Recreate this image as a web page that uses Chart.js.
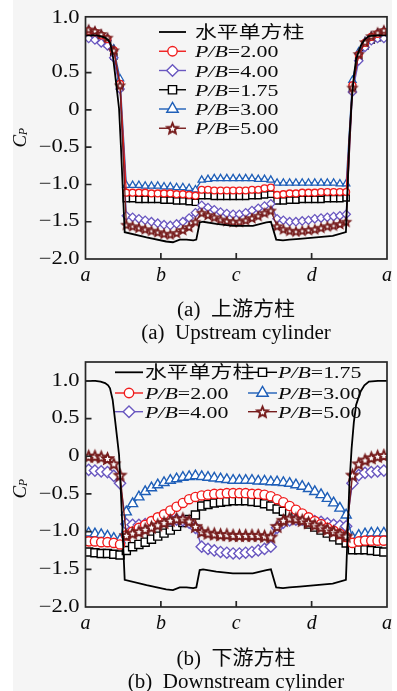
<!DOCTYPE html>
<html><head><meta charset="utf-8">
<script src="https://cdn.jsdelivr.net/npm/chart.js@4.4.1/dist/chart.umd.min.js"></script>
<style>
html,body{margin:0;padding:0;background:#fff;}
#wrap{position:relative;width:397px;height:691px;overflow:hidden;}
#bg{position:absolute;left:13px;top:0;width:379px;height:691px;background:#f5f5f5;}
canvas{position:absolute;left:0;}
#c1{top:0;} #c2{top:345px;}
</style></head><body>
<div id="wrap"><div id="bg"></div>
<canvas id="c1" width="397" height="345"></canvas>
<canvas id="c2" width="397" height="346"></canvas>
</div>
<script>
// ---------- axis ticks ----------
const xTickValues = [0, 1, 2, 3, 4];
const xTickLabels = ['a', 'b', 'c', 'd', 'a'];
const yTickLabels = ['\u22122.0', '\u22121.5', '\u22121.0', '\u22120.5', '0', '0.5', '1.0'];
const upYTickValues = [-2, -1.5, -1, -0.5, 0, 0.5, 1.23];
const downYTickValues = [-2, -1.5, -1, -0.5, 0, 0.5, 1.0];
const seriesLabels = ['水平单方柱', 'P/B=2.00', 'P/B=4.00', 'P/B=1.75', 'P/B=3.00', 'P/B=5.00'];
const captionsUp = ['(a)  上游方柱', '(a)  Upstream cylinder'];
const captionsDown = ['(b)  下游方柱', '(b)  Downstream cylinder'];

// ---------- single (isolated) cylinder ----------
const singleX = [0, 0.13, 0.2, 0.26, 0.3, 0.325, 0.36, 0.39, 0.42, 0.445, 0.47, 0.52,
  0.81, 1.07, 1.16, 1.25, 1.34, 1.43, 1.47, 1.515,
  1.56, 1.735, 1.955, 2.22, 2.4, 2.46, 2.53,
  2.62, 2.705, 2.84, 3.06, 3.28, 3.455,
  3.5, 3.53, 3.56, 3.59, 3.65, 3.7, 3.76, 3.88, 4.0];
const singleY = [1.0, 1.0, 0.99, 0.97, 0.94, 0.9, 0.75, 0.5, 0.24, 0.02, -0.49, -1.64,
  -1.71, -1.765, -1.775, -1.74, -1.74, -1.75, -1.74, -1.51,
  -1.5, -1.53, -1.555, -1.555, -1.51, -1.5, -1.74,
  -1.75, -1.74, -1.73, -1.71, -1.69, -1.64,
  -0.4, 0.1, 0.45, 0.68, 0.86, 0.94, 0.99, 1.0, 1.0];

// ---------- pressure taps: 12 per face (half windward face at each end) ----------
const tapX = Array.from({length: 48}, (_, i) => (i + 0.5) / 12);

// ---------- upstream cylinder ----------
const upP200 = [1.06, 1.04, 1.0, 0.95, 0.8, 0.35,
  -1.11, -1.11, -1.11, -1.11, -1.12, -1.12, -1.12, -1.12, -1.13, -1.13, -1.14, -1.15,
  -1.07, -1.07, -1.08, -1.08, -1.08, -1.08, -1.08, -1.08, -1.07, -1.07, -1.05, -1.04,
  -1.14, -1.13, -1.12, -1.12, -1.11, -1.11, -1.11, -1.1, -1.1, -1.1, -1.1, -1.1,
  0.33, 0.74, 0.9, 0.98, 1.02, 1.05];
const upP400 = [0.96, 0.94, 0.9, 0.86, 0.7, 0.28,
  -1.42, -1.44, -1.46, -1.48, -1.5, -1.52, -1.54, -1.55, -1.53, -1.5, -1.45, -1.38,
  -1.28, -1.31, -1.34, -1.37, -1.39, -1.4, -1.4, -1.38, -1.35, -1.32, -1.29, -1.26,
  -1.46, -1.48, -1.5, -1.5, -1.49, -1.48, -1.46, -1.45, -1.44, -1.43, -1.42, -1.4,
  0.24, 0.66, 0.84, 0.93, 0.96, 0.96];
const upP175 = [1.0, 0.98, 0.94, 0.89, 0.72, 0.32,
  -1.19, -1.19, -1.2, -1.2, -1.2, -1.2, -1.21, -1.21, -1.22, -1.22, -1.23, -1.24,
  -1.15, -1.15, -1.16, -1.16, -1.16, -1.16, -1.16, -1.16, -1.15, -1.15, -1.14, -1.13,
  -1.22, -1.22, -1.21, -1.21, -1.2, -1.2, -1.2, -1.2, -1.19, -1.19, -1.19, -1.18,
  0.3, 0.72, 0.86, 0.94, 0.97, 0.98];
const upP300 = [1.07, 1.05, 1.01, 0.96, 0.82, 0.42,
  -1.01, -1.01, -1.01, -1.02, -1.02, -1.02, -1.03, -1.03, -1.04, -1.04, -1.05, -1.07,
  -0.94, -0.93, -0.92, -0.92, -0.92, -0.92, -0.92, -0.92, -0.92, -0.93, -0.93, -0.94,
  -0.98, -0.98, -0.98, -0.98, -0.98, -0.98, -0.98, -0.98, -0.98, -0.98, -0.99, -0.99,
  0.4, 0.78, 0.92, 0.99, 1.03, 1.06];
const upP500 = [1.08, 1.06, 1.02, 0.97, 0.8, 0.33,
  -1.54, -1.56, -1.58, -1.6, -1.62, -1.64, -1.66, -1.67, -1.65, -1.61, -1.57, -1.5,
  -1.38, -1.41, -1.44, -1.47, -1.49, -1.5, -1.5, -1.48, -1.45, -1.42, -1.38, -1.35,
  -1.56, -1.6, -1.62, -1.63, -1.62, -1.61, -1.6, -1.58, -1.56, -1.55, -1.53, -1.5,
  0.3, 0.75, 0.91, 0.99, 1.04, 1.07];

// ---------- downstream cylinder ----------
const downP200 = [-1.13, -1.13, -1.14, -1.14, -1.15, -1.17,
  -1.05, -1.0, -0.95, -0.91, -0.86, -0.81, -0.77, -0.72, -0.67, -0.62, -0.57, -0.54,
  -0.52, -0.51, -0.5, -0.5, -0.49, -0.49, -0.49, -0.49, -0.5, -0.5, -0.51, -0.53,
  -0.57, -0.61, -0.66, -0.71, -0.76, -0.81, -0.86, -0.9, -0.95, -0.99, -1.03, -1.07,
  -1.15, -1.13, -1.12, -1.12, -1.12, -1.12];
const downP400 = [-0.18, -0.19, -0.2, -0.21, -0.26, -0.36,
  -0.9, -0.91, -0.91, -0.9, -0.89, -0.87, -0.85, -0.84, -0.84, -0.85, -0.88, -0.95,
  -1.2, -1.23, -1.25, -1.27, -1.28, -1.29, -1.29, -1.28, -1.27, -1.25, -1.23, -1.2,
  -0.95, -0.88, -0.85, -0.84, -0.84, -0.85, -0.86, -0.87, -0.89, -0.91, -0.92, -0.93,
  -0.36, -0.25, -0.22, -0.21, -0.2, -0.19];
const downP175 = [-1.27, -1.28, -1.29, -1.29, -1.3, -1.31,
  -1.25, -1.2, -1.17, -1.14, -1.1, -1.06, -1.02, -0.98, -0.93, -0.88, -0.84, -0.78,
  -0.66, -0.64, -0.62, -0.61, -0.6, -0.59, -0.59, -0.59, -0.6, -0.61, -0.63, -0.66,
  -0.7, -0.73, -0.76, -0.8, -0.85, -0.9, -0.94, -0.98, -1.02, -1.07, -1.11, -1.15,
  -1.24, -1.24, -1.24, -1.25, -1.26, -1.27];
const downP300 = [-1.02, -1.03, -1.04, -1.06, -1.09, -1.11,
  -0.74, -0.63, -0.54, -0.47, -0.42, -0.38, -0.35, -0.32, -0.3, -0.28, -0.27, -0.26,
  -0.27, -0.28, -0.29, -0.3, -0.31, -0.32, -0.32, -0.32, -0.32, -0.33, -0.33, -0.34,
  -0.34, -0.35, -0.36, -0.38, -0.4, -0.43, -0.47, -0.51, -0.56, -0.62, -0.69, -0.78,
  -1.08, -1.05, -1.03, -1.02, -1.02, -1.02];
const downP500 = [0.0, 0.0, -0.01, -0.03, -0.1, -0.25,
  -1.05, -1.02, -1.0, -0.97, -0.94, -0.91, -0.88, -0.85, -0.83, -0.83, -0.86, -0.93,
  -1.0, -1.02, -1.03, -1.04, -1.04, -1.05, -1.05, -1.05, -1.05, -1.05, -1.06, -1.07,
  -0.93, -0.85, -0.82, -0.83, -0.85, -0.88, -0.91, -0.94, -0.97, -1.0, -1.03, -1.06,
  -0.25, -0.1, -0.05, -0.02, 0.0, 0.01];

// ---------- styles ----------
const COL = {single: '#000', p200: '#f01c1c', p400: '#6a58c0', p175: '#000', p300: '#1f5fb8', p500: '#761c1c'};
const SERIF = '"Liberation Serif"';
const CJK = '"Noto Sans CJK SC"';
const TXT = '#0a0a0a';

function makeStar(R, color, lw) {
  const size = Math.ceil(2 * R + lw + 3);
  const c = document.createElement('canvas'); c.width = size; c.height = size;
  const g = c.getContext('2d');
  const cx = size / 2, cy = size / 2 + R * 0.1;
  g.beginPath();
  for (let k = 0; k < 10; k++) {
    const rr = k % 2 === 0 ? R : R * 0.45;
    const a = -Math.PI / 2 + k * Math.PI / 5;
    g.lineTo(cx + rr * Math.cos(a), cy + rr * Math.sin(a));
  }
  g.closePath(); g.fillStyle = '#fff'; g.fill();
  g.strokeStyle = color; g.lineWidth = lw; g.lineJoin = 'miter'; g.stroke();
  return c;
}
const starSmall = makeStar(4.3, COL.p500, 1.7);
const starBig = makeStar(5.6, COL.p500, 1.9);

function drawMarker(ctx, type, x, y, r, color, lw) {
  if (type === 'star') { ctx.drawImage(starBig, x - starBig.width / 2, y - starBig.height / 2); return; }
  ctx.save(); ctx.lineWidth = lw; ctx.strokeStyle = color; ctx.fillStyle = '#fff';
  ctx.beginPath();
  if (type === 'circle') ctx.arc(x, y, r, 0, 2 * Math.PI);
  else if (type === 'rect') { const s = r * Math.SQRT1_2; ctx.rect(x - s, y - s, 2 * s, 2 * s); }
  else if (type === 'rectRot') { ctx.moveTo(x, y - r); ctx.lineTo(x + r, y); ctx.lineTo(x, y + r); ctx.lineTo(x - r, y); ctx.closePath(); }
  else if (type === 'triangle') {
    for (let k = 0; k < 3; k++) { const a = k * 2 * Math.PI / 3; ctx.lineTo(x + Math.sin(a) * r, y - Math.cos(a) * r); }
    ctx.closePath();
  }
  ctx.fill(); ctx.stroke(); ctx.restore();
}

function drawLabel(ctx, text, x, baseline, kx, size) {
  ctx.save(); ctx.translate(x, baseline); ctx.scale(kx, 1);
  ctx.fillStyle = TXT; ctx.textBaseline = 'alphabetic'; ctx.textAlign = 'left';
  const m = text.match(/^(P\/B)(=.*)$/);
  if (m) {
    ctx.font = 'italic ' + size + 'px ' + SERIF; ctx.fillText(m[1], 0, 0);
    const w = ctx.measureText(m[1]).width;
    ctx.font = size + 'px ' + SERIF; ctx.fillText(m[2], w, 0);
  } else {
    ctx.font = size + 'px ' + CJK; ctx.fillText(text, 0, 0);
  }
  ctx.restore();
}

const legendStyle = [
  {type: null, color: COL.single, lw: 1.8},
  {type: 'circle', color: COL.p200, r: 4.7, lw: 1.4},
  {type: 'rectRot', color: COL.p400, r: 5.8, lw: 1.4},
  {type: 'rect', color: COL.p175, r: 5.8, lw: 1.4},
  {type: 'triangle', color: COL.p300, r: 6.6, lw: 1.4},
  {type: 'star', color: COL.p500, r: 5.6, lw: 1.4}
];

function drawEntry(ctx, idx, x1, x2, y, tx) {
  const st = legendStyle[idx];
  ctx.save(); ctx.strokeStyle = st.color; ctx.lineWidth = st.lw;
  ctx.beginPath(); ctx.moveTo(x1, y); ctx.lineTo(x2, y); ctx.stroke(); ctx.restore();
  if (st.type) drawMarker(ctx, st.type, (x1 + x2) / 2, y, st.r, st.color, st.lw);
  drawLabel(ctx, seriesLabels[idx], tx, y + 6, 1.25, 17.5);
}

function drawCaption(ctx, text, cx, baseline) {
  ctx.save(); ctx.font = '20px ' + SERIF + ', ' + CJK; ctx.fillStyle = TXT;
  ctx.textBaseline = 'alphabetic'; ctx.textAlign = 'left';
  const k = 1.05; const w = ctx.measureText(text).width * k;
  ctx.translate(cx - w / 2, baseline); ctx.scale(k, 1); ctx.fillText(text, 0, 0); ctx.restore();
}

function drawCp(ctx, cx, cy) {
  ctx.save(); ctx.translate(cx, cy); ctx.rotate(-Math.PI / 2); ctx.fillStyle = TXT;
  ctx.textBaseline = 'alphabetic'; ctx.textAlign = 'left';
  ctx.font = 'italic 19px ' + SERIF; const wC = ctx.measureText('C').width;
  ctx.font = 'italic 12px ' + SERIF; const wP = ctx.measureText('P').width;
  const x0 = -(wC + wP) / 2;
  ctx.font = 'italic 19px ' + SERIF; ctx.fillText('C', x0, 6.5);
  ctx.font = 'italic 12px ' + SERIF; ctx.fillText('P', x0 + wC - 0.5, 8);
  ctx.restore();
}

// y tick labels are drawn by Chart.js, stretched horizontally like the original typesetting
const KY = 1.25;
const stretchPlugin = {
  id: 'stretchY',
  beforeDraw(chart) {
    const s = chart.scales.y;
    if (s && !s._stretched) {
      const orig = s.drawLabels.bind(s);
      s.drawLabels = function (area) {
        const ctx = this.ctx; const xr = this.right - this.options.ticks.padding;
        ctx.save(); ctx.translate(xr, 0); ctx.scale(KY, 1); ctx.translate(-xr, 0);
        orig(area); ctx.restore();
      };
      s._stretched = true;
    }
  }
};

const framePlugin = {
  id: 'frame',
  afterDraw(chart, args, opts) {
    const {ctx, chartArea: a, scales: {x, y}} = chart;
    ctx.save(); ctx.strokeStyle = '#262626'; ctx.lineWidth = 1.7;
    ctx.strokeRect(a.left, a.top, a.right - a.left, a.bottom - a.top);
    ctx.beginPath();
    y.ticks.forEach(t => {
      if (t.value > -2 && t.value <= 1.0001) { const py = y.getPixelForValue(t.value); ctx.moveTo(a.left, py); ctx.lineTo(a.left + 6, py); }
    });
    xTickValues.slice(1, -1).forEach(v => { const px = x.getPixelForValue(v); ctx.moveTo(px, a.bottom); ctx.lineTo(px, a.bottom - 6); });
    ctx.stroke(); ctx.restore();
    opts.extra(ctx, a);
  }
};

function makeDatasets(vals, big) {
  const sz = big ? {circle: 4.6, rectRot: 5.6, rect: 5.7, triangle: 5.8, lw: 1.4} : {circle: 3.4, rectRot: 4.2, rect: 4.4, triangle: 4.2, lw: 1.3};
  const mk = (label, ys, style, color, order, r) => ({
    label, data: ys.map((v, i) => ({x: tapX[i], y: v})),
    borderColor: color, backgroundColor: '#fff', borderWidth: sz.lw,
    pointStyle: style, pointRadius: r, pointBorderColor: color, pointBackgroundColor: '#fff',
    pointBorderWidth: sz.lw, order, tension: 0
  });
  return [
    {label: seriesLabels[0], data: singleX.map((v, i) => ({x: v, y: singleY[i]})), borderColor: COL.single,
      borderWidth: 1.8, pointRadius: 0, order: 0, tension: 0},
    mk(seriesLabels[1], vals[0], 'circle', COL.p200, 2, sz.circle),
    mk(seriesLabels[2], vals[1], 'rectRot', COL.p400, 4, sz.rectRot),
    mk(seriesLabels[3], vals[2], 'rect', COL.p175, 5, sz.rect),
    mk(seriesLabels[4], vals[3], 'triangle', COL.p300, 3, sz.triangle),
    mk(seriesLabels[5], vals[4], big ? starBig : starSmall, COL.p500, 1, 5)
  ];
}

function makeChart(canvasId, vals, yTicks, big, padTop, xHeight, extra) {
  return new Chart(document.getElementById(canvasId), {
    type: 'line',
    data: {datasets: makeDatasets(vals, big)},
    options: {
      responsive: false, animation: false, devicePixelRatio: 1, events: [],
      layout: {padding: {top: padTop, right: 9, left: 0, bottom: 0}, autoPadding: false},
      plugins: {legend: {display: false}, tooltip: {enabled: false}, frame: {extra}},
      scales: {
        x: {
          type: 'linear', min: 0, max: 4,
          afterBuildTicks: s => { s.ticks = xTickValues.map(v => ({value: v})); },
          afterFit: s => { s.height = xHeight; },
          ticks: {callback: (v, i) => xTickLabels[i], font: {family: SERIF, size: 20, style: 'italic'},
            color: TXT, padding: 5, autoSkip: false, maxRotation: 0},
          grid: {display: false, drawTicks: false}, border: {display: false}
        },
        y: {
          type: 'linear', min: -2, max: 1.25,
          afterBuildTicks: s => { s.ticks = yTicks.map(v => ({value: v})); },
          afterFit: s => { s.width = 85.5; },
          ticks: {callback: (v, i) => yTickLabels[i], font: {family: SERIF, size: 18},
            color: TXT, padding: 6, autoSkip: false},
          grid: {display: false, drawTicks: false}, border: {display: false}
        }
      }
    },
    plugins: [stretchPlugin, framePlugin]
  });
}

makeChart('c1', [upP200, upP400, upP175, upP300, upP500], upYTickValues, false, 14, 86, (ctx) => {
  const rows = [0, 1, 2, 3, 4, 5];
  rows.forEach((idx, k) => drawEntry(ctx, idx, 159, 186, 32 + k * 19.25, 195));
  drawCp(ctx, 19, 137.5);
  drawCaption(ctx, captionsUp[0], 236, 316.3);
  drawCaption(ctx, captionsUp[1], 236, 339);
});

makeChart('c2', [downP200, downP400, downP175, downP300, downP500], downYTickValues, true, 17, 84, (ctx) => {
  const ys = [27.3, 48, 66.7];
  drawEntry(ctx, 0, 115, 143, ys[0], 145);
  drawEntry(ctx, 3, 248, 277, ys[0], 278);
  drawEntry(ctx, 1, 115, 143, ys[1], 145);
  drawEntry(ctx, 4, 248, 277, ys[1], 278);
  drawEntry(ctx, 2, 115, 143, ys[2], 145);
  drawEntry(ctx, 5, 248, 277, ys[2], 278);
  drawCp(ctx, 19, 143.5);
  drawCaption(ctx, captionsDown[0], 236, 320);
  drawCaption(ctx, captionsDown[1], 236, 343.3);
});
</script></body></html>
